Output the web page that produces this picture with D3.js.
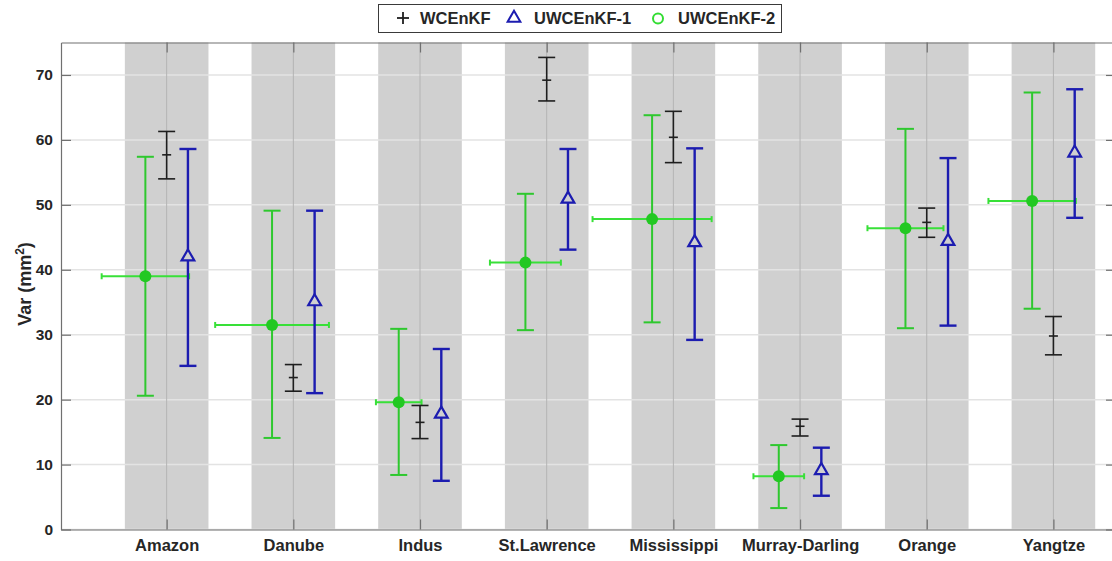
<!DOCTYPE html>
<html>
<head>
  <meta charset="utf-8">
  <title>Var error bars</title>
  <script type="text/javascript" src="https://cdn.jsdelivr.net/npm/d3@7"></script>
  <style>
    body { margin: 0; background: #fff; }
    text { font-family: "Liberation Sans", Arial, sans-serif; font-weight: bold; }
  </style>
</head>
<body>
<div id="chart"></div>

<script type="text/javascript">
// basins
var categories = ['Amazon','Danube','Indus','St.Lawrence','Mississippi','Murray-Darling','Orange','Yangtze'];
var yTicks = [0,10,20,30,40,50,60,70];

// WCEnKF (black)
var wcMean = [57.7, 23.4, 16.5, 69.2, 60.4, 15.9, 47.3, 29.8];
var wcLow  = [54.0, 21.3, 14.0, 66.0, 56.5, 14.4, 45.0, 26.9];
var wcHigh = [61.3, 25.4, 19.1, 72.7, 64.4, 17.0, 49.5, 32.8];

// UWCEnKF-1 (blue)
var uw1Mean = [42.0, 35.1, 17.8, 50.9, 44.2, 9.1, 44.4, 58.0];
var uw1Low  = [25.2, 21.0, 7.5, 43.1, 29.2, 5.2, 31.4, 48.0];
var uw1High = [58.6, 49.1, 27.8, 58.6, 58.7, 12.6, 57.2, 67.8];

// UWCEnKF-2 (green), with horizontal error too
var uw2Mean = [39.0, 31.5, 19.6, 41.1, 47.8, 8.2, 46.4, 50.6];
var uw2Low  = [20.6, 14.1, 8.4, 30.7, 31.9, 3.3, 31.0, 34.0];
var uw2High = [57.4, 49.1, 30.9, 51.7, 63.8, 13.0, 61.7, 67.3];
var uw2XErr = [0.345, 0.449, 0.18, 0.28, 0.47, 0.2, 0.30, 0.345];

var w = 1112, h = 561;
var plotL = 61, plotR = 1116, plotT = 42.5, plotB = 529.5;
var green = '#2ec82e', greenH = '#38e038', blue = '#1c1cb0', black = '#1e1e1e';
var capW = 8.5;

var svg = d3.select('#chart').append('svg')
  .attr('width', w)
  .attr('height', h);

var x = d3.scaleLinear().domain([0.166, 8.494]).range([plotL, plotR]);
var y = d3.scaleLinear().domain([0, 75]).range([plotB, plotT]);
var idx = categories.map(function(d, i){ return i + 1; });

// gray bands
svg.selectAll('rect.band')
  .data(idx)
  .enter()
  .append('rect')
  .attr('class', 'band')
  .attr('x', function(d){ return x(d - 0.33); })
  .attr('y', plotT)
  .attr('width', x(0.66) - x(0))
  .attr('height', plotB - plotT)
  .attr('fill', '#d0d0d0');

// grid
svg.selectAll('line.hgrid')
  .data(yTicks)
  .enter()
  .append('line')
  .attr('x1', plotL).attr('x2', plotR)
  .attr('y1', function(d){ return y(d); })
  .attr('y2', function(d){ return y(d); })
  .attr('stroke', '#e3e3e3')
  .attr('stroke-width', 1.5);
svg.selectAll('line.vgrid')
  .data(idx)
  .enter()
  .append('line')
  .attr('x1', function(d){ return x(d); })
  .attr('x2', function(d){ return x(d); })
  .attr('y1', plotT).attr('y2', plotB)
  .attr('stroke', '#b4b4b4')
  .attr('stroke-width', 1);

// axes
function styleAxis(g, fs) {
  g.selectAll('path, line').attr('stroke', '#707070').attr('stroke-width', 1.2);
  g.selectAll('text').attr('fill', '#262626').style('font-size', fs).style('font-weight', 'bold');
}
svg.append('g')
  .attr('transform', 'translate(0,' + plotB + ')')
  .call(d3.axisBottom(x).tickValues(idx).tickFormat(function(d){ return categories[d - 1]; })
    .tickSizeInner(-10).tickSizeOuter(0).tickPadding(10))
  .call(styleAxis, '16.5px');
svg.append('g')
  .attr('transform', 'translate(0,' + plotT + ')')
  .call(d3.axisTop(x).tickValues(idx).tickFormat('').tickSizeInner(-10).tickSizeOuter(0))
  .call(styleAxis, '15px');
svg.append('g')
  .attr('transform', 'translate(' + plotL + ',0)')
  .call(d3.axisLeft(y).tickValues(yTicks).tickSizeInner(-10).tickSizeOuter(0).tickPadding(8))
  .call(styleAxis, '15.5px');
svg.append('g')
  .attr('transform', 'translate(' + plotR + ',0)')
  .call(d3.axisRight(y).tickValues(yTicks).tickFormat('').tickSizeInner(-10).tickSizeOuter(0))
  .call(styleAxis, '15px');

// y label
svg.append('text')
  .attr('transform', 'translate(31,' + ((plotT + plotB) / 2 - 2) + ') rotate(-90)')
  .attr('text-anchor', 'middle')
  .attr('fill', '#262626')
  .style('font-size', '18px')
  .html('Var (mm<tspan baseline-shift="super" font-size="12px">2</tspan>)');

// vertical error bars
function errBars(cls, off, low, high, color, sw) {
  var g = svg.append('g').attr('class', cls)
    .attr('stroke', color).attr('stroke-width', sw).attr('fill', 'none');
  g.selectAll('line.v').data(idx).enter().append('line')
    .attr('x1', function(d){ return x(d + off); })
    .attr('x2', function(d){ return x(d + off); })
    .attr('y1', function(d, i){ return y(low[i]); })
    .attr('y2', function(d, i){ return y(high[i]); });
  [low, high].forEach(function(arr){
    g.selectAll(null).data(idx).enter().append('line')
      .attr('x1', function(d){ return x(d + off) - capW; })
      .attr('x2', function(d){ return x(d + off) + capW; })
      .attr('y1', function(d, i){ return y(arr[i]); })
      .attr('y2', function(d, i){ return y(arr[i]); });
  });
  return g;
}

// green: horizontal bar, vertical bar, filled dot
var gG = svg.append('g');
gG.selectAll('line.h').data(idx).enter().append('line')
  .attr('x1', function(d, i){ return x(d - 0.168 - uw2XErr[i]); })
  .attr('x2', function(d, i){ return x(d - 0.168 + uw2XErr[i]); })
  .attr('y1', function(d, i){ return y(uw2Mean[i]); })
  .attr('y2', function(d, i){ return y(uw2Mean[i]); })
  .attr('stroke', greenH).attr('stroke-width', 2);
[-1, 1].forEach(function(s){
  gG.selectAll(null).data(idx).enter().append('line')
    .attr('x1', function(d, i){ return x(d - 0.168 + s * uw2XErr[i]); })
    .attr('x2', function(d, i){ return x(d - 0.168 + s * uw2XErr[i]); })
    .attr('y1', function(d, i){ return y(uw2Mean[i]) - 3; })
    .attr('y2', function(d, i){ return y(uw2Mean[i]) + 3; })
    .attr('stroke', greenH).attr('stroke-width', 2);
});
errBars('uw2', -0.168, uw2Low, uw2High, green, 2);
svg.selectAll('circle.uw2').data(idx).enter().append('circle')
  .attr('cx', function(d){ return x(d - 0.168); })
  .attr('cy', function(d, i){ return y(uw2Mean[i]); })
  .attr('r', 6)
  .attr('fill', '#22c822');

// black
var gB = errBars('wc', 0, wcLow, wcHigh, black, 1.6);
gB.selectAll('line.m').data(idx).enter().append('line')
  .attr('x1', function(d){ return x(d) - 4.5; })
  .attr('x2', function(d){ return x(d) + 4.5; })
  .attr('y1', function(d, i){ return y(wcMean[i]); })
  .attr('y2', function(d, i){ return y(wcMean[i]); });

// blue with open triangles
errBars('uw1', 0.168, uw1Low, uw1High, blue, 2.4);
var tri = d3.symbol().type(d3.symbolTriangle).size(70);
svg.selectAll('path.uw1').data(idx).enter().append('path')
  .attr('d', tri)
  .attr('transform', function(d, i){ return 'translate(' + x(d + 0.168) + ',' + y(uw1Mean[i]) + ')'; })
  .attr('fill', '#d0d0d0')
  .attr('stroke', blue)
  .attr('stroke-width', 2.2);

// legend
var lg = svg.append('g');
lg.append('rect').attr('x', 378.5).attr('y', 4.5).attr('width', 403).attr('height', 28)
  .attr('fill', '#fff').attr('stroke', '#3a3a3a').attr('stroke-width', 1);
lg.append('line').attr('x1', 397).attr('x2', 409).attr('y1', 18).attr('y2', 18).attr('stroke', black).attr('stroke-width', 1.8);
lg.append('line').attr('x1', 403).attr('x2', 403).attr('y1', 12).attr('y2', 24).attr('stroke', black).attr('stroke-width', 1.8);
lg.append('path').attr('d', tri).attr('transform', 'translate(514,18)')
  .attr('fill', 'none').attr('stroke', blue).attr('stroke-width', 2);
lg.append('circle').attr('cx', 658).attr('cy', 18.5).attr('r', 5)
  .attr('fill', 'none').attr('stroke', '#33dd33').attr('stroke-width', 2);
var legTexts = [['WCEnKF', 420], ['UWCEnKF-1', 534], ['UWCEnKF-2', 678]];
lg.selectAll('text').data(legTexts).enter().append('text')
  .attr('x', function(d){ return d[1]; })
  .attr('y', 24)
  .attr('fill', '#262626')
  .style('font-size', '16.5px')
  .text(function(d){ return d[0]; });
</script>

</body>
</html>
